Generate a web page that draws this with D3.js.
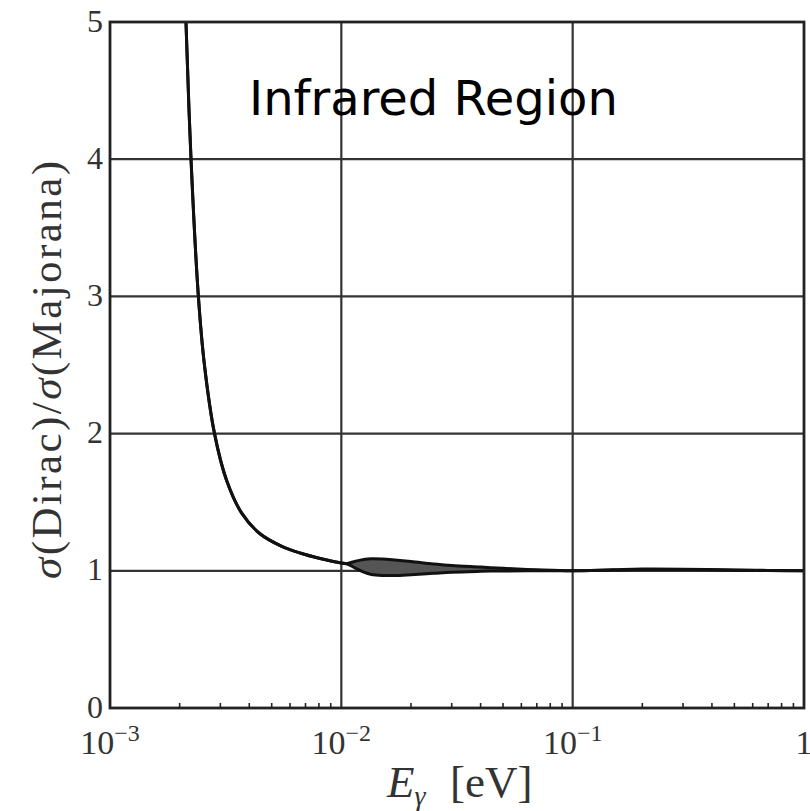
<!DOCTYPE html>
<html>
<head>
<meta charset="utf-8">
<script src="https://cdn.jsdelivr.net/npm/d3@7"></script>
<style>
  html, body { margin: 0; padding: 0; background: #fff; }
  svg { display: block; }
</style>
</head>
<body>
<svg id="chart" width="810" height="811"></svg>
<script>
// Photon energy grid (eV) and the Dirac/Majorana cross-section ratio.
// Below ~0.0105 eV the two bounds coincide; above it they open into a band.
const energy = [
  0.00208, 0.00213, 0.00224, 0.00241, 0.00256, 0.00283, 0.00319, 0.00371,
  0.00445, 0.0055, 0.00663, 0.0081, 0.0100, 0.0105, 0.0115, 0.0125, 0.0135,
  0.0150, 0.0170, 0.0200, 0.0250, 0.0300, 0.0400, 0.0500, 0.0700, 0.100,
  0.150, 0.200, 0.300, 0.500, 0.700, 1.00
];
const ratioUpper = [
  5.60, 5.00, 4.00, 3.00, 2.50, 2.00, 1.66, 1.42,
  1.27, 1.18, 1.13, 1.09, 1.057, 1.052, 1.070, 1.083, 1.088,
  1.086, 1.079, 1.068, 1.050, 1.038, 1.027, 1.018, 1.007, 1.000,
  1.008, 1.013, 1.012, 1.006, 1.003, 1.000
];
const ratioLower = [
  5.60, 5.00, 4.00, 3.00, 2.50, 2.00, 1.66, 1.42,
  1.27, 1.18, 1.13, 1.09, 1.057, 1.052, 1.020, 0.990, 0.973,
  0.966, 0.966, 0.972, 0.982, 0.990, 0.996, 0.999, 1.000, 1.000,
  1.005, 1.009, 1.009, 1.004, 1.002, 1.000
];

const xTicks = [1e-3, 1e-2, 1e-1, 1];
const xTickBase = ["10", "10", "10", "1"];
const xTickExp = ["−3", "−2", "−1", ""];
const yTicks = [0, 1, 2, 3, 4, 5];

const svg = d3.select("#chart");
const plotLeft = 110, plotRight = 804, plotTop = 22, plotBottom = 708;

const x = d3.scaleLog().domain([1e-3, 1]).range([plotLeft, plotRight]);
const y = d3.scaleLinear().domain([0, 5]).range([plotBottom, plotTop]);

const serif = "'Liberation Serif', 'DejaVu Serif', serif";
const smooth = d3.curveCatmullRom.alpha(0.5);

svg.append("defs").append("clipPath").attr("id", "plotClip")
  .append("rect")
  .attr("x", plotLeft).attr("y", plotTop)
  .attr("width", plotRight - plotLeft).attr("height", plotBottom - plotTop);

// Grid lines at every decade and every integer ratio
const grid = svg.append("g").attr("stroke", "#333").attr("stroke-width", 2.2);
grid.selectAll("line.v").data(xTicks.slice(1, -1)).join("line")
  .attr("class", "v")
  .attr("x1", d => x(d)).attr("x2", d => x(d))
  .attr("y1", plotTop).attr("y2", plotBottom);
grid.selectAll("line.h").data(yTicks.slice(1, -1)).join("line")
  .attr("class", "h")
  .attr("x1", plotLeft).attr("x2", plotRight)
  .attr("y1", d => y(d)).attr("y2", d => y(d));

// Minor log ticks along the bottom axis
const minor = [];
[1e-3, 1e-2, 1e-1].forEach(dec => { for (let k = 2; k <= 9; k++) minor.push(dec * k); });
svg.append("g").attr("stroke", "#222").attr("stroke-width", 1.6)
  .selectAll("line").data(minor).join("line")
  .attr("x1", d => x(d)).attr("x2", d => x(d))
  .attr("y1", plotBottom).attr("y2", plotBottom - 5);

// Ratio curve with its uncertainty band
const rows = energy.map((e, i) => ({ e, hi: ratioUpper[i], lo: ratioLower[i] }));
const plot = svg.append("g").attr("clip-path", "url(#plotClip)");

plot.append("path").datum(rows)
  .attr("fill", "#555")
  .attr("d", d3.area()
    .x(d => x(d.e)).y0(d => y(d.lo)).y1(d => y(d.hi))
    .curve(smooth));

["hi", "lo"].forEach(key => {
  plot.append("path").datum(rows)
    .attr("fill", "none")
    .attr("stroke", "#111")
    .attr("stroke-width", 3)
    .attr("stroke-linejoin", "round")
    .attr("d", d3.line()
      .x(d => x(d.e)).y(d => y(d[key]))
      .curve(smooth));
});

// Frame
svg.append("rect")
  .attr("x", plotLeft).attr("y", plotTop)
  .attr("width", plotRight - plotLeft).attr("height", plotBottom - plotTop)
  .attr("fill", "none").attr("stroke", "#222").attr("stroke-width", 2.8);

// Y tick labels
svg.append("g").selectAll("text").data(yTicks).join("text")
  .attr("x", plotLeft - 7)
  .attr("y", d => y(d))
  .attr("dy", "0.3em")
  .attr("text-anchor", "end")
  .attr("font-family", serif)
  .attr("font-size", 32)
  .attr("fill", "#333")
  .text(d => d);

// X tick labels: 10 with superscript exponent
const xl = svg.append("g").selectAll("text").data(xTicks).join("text")
  .attr("x", d => x(d))
  .attr("y", 754)
  .attr("text-anchor", "middle")
  .attr("font-family", serif)
  .attr("fill", "#333");
xl.append("tspan")
  .attr("font-size", 34)
  .text((d, i) => xTickBase[i]);
xl.append("tspan")
  .attr("font-size", 24)
  .attr("dy", -13)
  .text((d, i) => xTickExp[i]);

// Axis titles
const yTitle = svg.append("text")
  .attr("transform", "translate(61,370) rotate(-90)")
  .attr("text-anchor", "middle")
  .attr("font-family", serif)
  .attr("font-size", 43)
  .attr("fill", "#333")
  .attr("textLength", 418)
  .attr("lengthAdjust", "spacing");
yTitle.append("tspan").attr("font-style", "italic").text("σ");
yTitle.append("tspan").text("(Dirac)/");
yTitle.append("tspan").attr("font-style", "italic").text("σ");
yTitle.append("tspan").text("(Majorana)");

const xTitle = svg.append("text")
  .attr("x", 387).attr("y", 797)
  .attr("font-family", serif)
  .attr("font-size", 45)
  .attr("fill", "#333");
xTitle.append("tspan").attr("font-style", "italic").text("E");
xTitle.append("tspan").attr("font-style", "italic")
  .attr("font-size", 28).attr("dy", 8).text("γ");
xTitle.append("tspan").attr("x", 450).attr("dy", -8).text("[eV]");

// Region annotation
svg.append("text")
  .attr("x", 249).attr("y", 115)
  .attr("font-family", "'DejaVu Sans', sans-serif")
  .attr("font-size", 48)
  .attr("fill", "#000")
  .text("Infrared Region");
</script>
</body>
</html>
